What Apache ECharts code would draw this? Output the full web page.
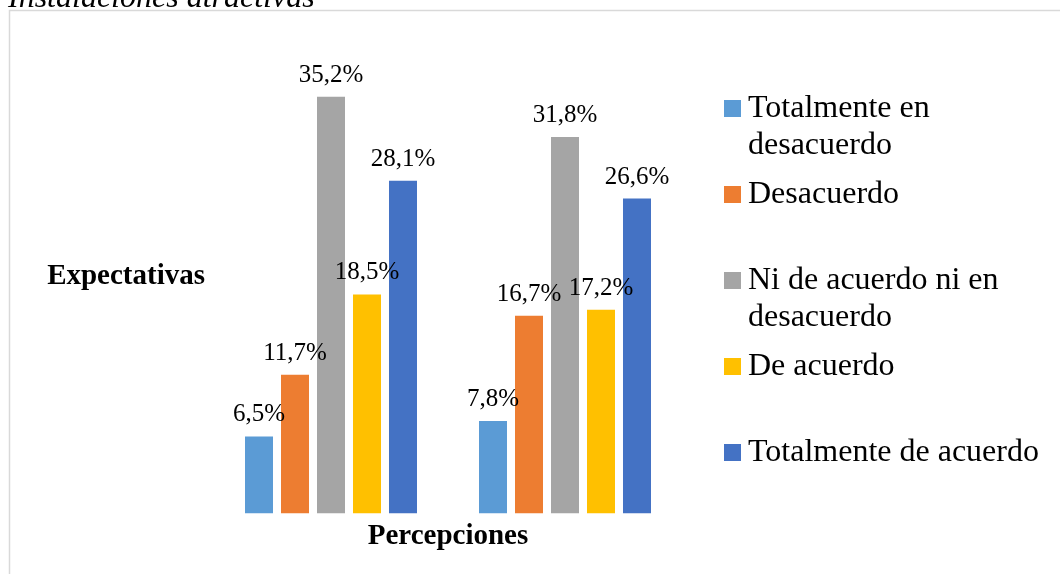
<!DOCTYPE html>
<html>
<head>
<meta charset="utf-8">
<script src="https://cdn.jsdelivr.net/npm/echarts@6/dist/echarts.min.js"></script>
<style>
  html, body { margin: 0; padding: 0; background: #ffffff; }
  #chart { width: 1060px; height: 574px; }
</style>
</head>
<body>
<div id="chart"></div>
<script>
// Survey groups (two clusters of bars)
const groups = ['Expectativas', 'Percepciones'];

// Response options, one series each
const responses = [
  'Totalmente en desacuerdo',
  'Desacuerdo',
  'Ni de acuerdo ni en desacuerdo',
  'De acuerdo',
  'Totalmente de acuerdo'
];
// Wrapped legend text
const legendLabels = [
  'Totalmente en\ndesacuerdo',
  'Desacuerdo',
  'Ni de acuerdo ni en\ndesacuerdo',
  'De acuerdo',
  'Totalmente de acuerdo'
];

// Percentages per group: [Expectativas, Percepciones]
const totDesacuerdo = [6.5, 7.8];
const desacuerdo    = [11.7, 16.7];
const neutral       = [35.2, 31.8];
const deAcuerdo     = [18.5, 17.2];
const totAcuerdo    = [28.1, 26.6];

const seriesValues = [totDesacuerdo, desacuerdo, neutral, deAcuerdo, totAcuerdo];
const colors = ['#5B9BD5', '#ED7D31', '#A5A5A5', '#FFC000', '#4472C4'];
const heading = 'Instalaciones atractivas';

const serif = '"Liberation Serif", "Times New Roman", serif';
const fmtPct = v => v.toFixed(1).replace('.', ',') + '%';

// Every legend entry is padded to three text lines so the slots are equally
// tall and the first line of each entry sits level with its swatch.
const legendText = name => {
  const t = legendLabels[responses.indexOf(name)];
  return t.indexOf('\n') >= 0 ? '\n' + t : '\n' + t + '\n';
};

const chart = echarts.init(document.getElementById('chart'), null, { renderer: 'canvas' });

chart.setOption({
  animation: false,
  backgroundColor: '#ffffff',
  color: colors,
  graphic: [
    {
      type: 'rect',
      silent: true,
      shape: { x: 9.5, y: 10.5, width: 1100, height: 600 },
      style: { fill: 'none', stroke: '#d9d9d9', lineWidth: 1.5 }
    },
    {
      type: 'text',
      silent: true,
      x: 8,
      y: -17,
      style: {
        text: heading,
        font: 'italic 32px ' + serif,
        fill: '#000000'
      }
    }
  ],
  grid: { left: 214, right: 378, top: 40, bottom: 60.7 },
  legend: {
    orient: 'vertical',
    left: 719,
    top: 48,
    icon: 'rect',
    itemWidth: 17,
    itemHeight: 17,
    itemGap: -25,
    selectedMode: false,
    formatter: legendText,
    textStyle: {
      fontFamily: serif,
      fontSize: 32,
      lineHeight: 37,
      color: '#000000',
      padding: [0, 0, 0, 2]
    },
    data: responses
  },
  xAxis: {
    type: 'category',
    data: groups,
    name: groups[1],
    nameLocation: 'middle',
    nameGap: 9,
    nameTextStyle: { fontFamily: serif, fontSize: 29, fontWeight: 'bold', color: '#000000' },
    axisLine: { show: false },
    axisTick: { show: false },
    axisLabel: { show: false }
  },
  yAxis: {
    type: 'value',
    min: 0,
    max: 40,
    name: groups[0],
    nameLocation: 'middle',
    nameRotate: 0,
    nameGap: 9,
    nameTextStyle: { fontFamily: serif, fontSize: 29, fontWeight: 'bold', color: '#000000' },
    axisLine: { show: false },
    axisTick: { show: false },
    axisLabel: { show: false },
    splitLine: { show: false }
  },
  series: responses.map((name, i) => ({
    type: 'bar',
    name: name,
    data: seriesValues[i],
    barWidth: 28,
    barGap: '28.57%',
    itemStyle: { color: colors[i] },
    label: {
      show: true,
      position: 'top',
      distance: 9,
      formatter: p => fmtPct(p.value),
      fontFamily: serif,
      fontSize: 25,
      color: '#000000'
    }
  }))
});
</script>
</body>
</html>
